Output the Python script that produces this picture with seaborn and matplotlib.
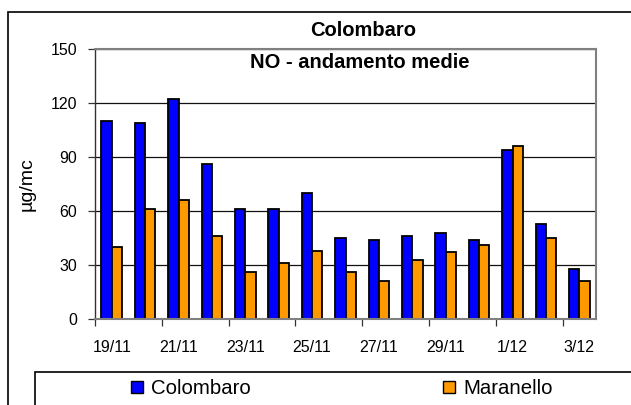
import matplotlib
matplotlib.use("Agg")
import matplotlib.pyplot as plt
import seaborn as sns
import pandas as pd
from matplotlib.patches import Rectangle
from matplotlib.lines import Line2D

categories = ["19/11", "20/11", "21/11", "22/11", "23/11", "24/11", "25/11", "26/11",
              "27/11", "28/11", "29/11", "30/11", "1/12", "2/12", "3/12"]
colombaro = [110, 109, 122, 86, 61, 61, 70, 45, 44, 46, 48, 44, 94, 53, 28]
maranello = [40, 61, 66, 46, 26, 31, 38, 26, 21, 33, 37, 41, 96, 45, 21]
series_names = ["Colombaro", "Maranello"]
series_colors = ["#0000FF", "#FF9900"]
y_ticks = [0, 30, 60, 90, 120, 150]

df = pd.DataFrame({
    "data": categories * 2,
    "valore": colombaro + maranello,
    "stazione": [series_names[0]] * len(categories) + [series_names[1]] * len(categories),
})

sns.set_theme(style="white")
plt.rcParams["font.family"] = ["Liberation Sans", "DejaVu Sans"]
plt.rcParams["text.color"] = "black"
plt.rcParams["axes.labelcolor"] = "black"
plt.rcParams["xtick.color"] = "black"
plt.rcParams["ytick.color"] = "black"

W, H = 631, 405
fig = plt.figure(figsize=(W / 100, H / 100), dpi=100)
L, R, T, B = 95, 596, 49, 319
ax = fig.add_axes([L / W, 1 - B / H, (R - L) / W, (B - T) / H])

sns.barplot(data=df, x="data", y="valore", hue="stazione", order=categories,
            hue_order=series_names, palette=series_colors, saturation=1,
            width=0.62, gap=0, edgecolor="black", linewidth=1.3, ax=ax, legend=False)

ax.set_xlim(-0.5, len(categories) - 0.5)
ax.set_ylim(0, 150)
ax.set_yticks(y_ticks)
ax.set_yticklabels([str(v) for v in y_ticks], fontsize=11.5)
ax.yaxis.grid(True, color="#111111", linewidth=0.9)
ax.set_axisbelow(True)

major = list(range(0, len(categories), 2))
ax.set_xticks(major)
ax.set_xticklabels([categories[i] for i in major], fontsize=11.5)
ax.set_xticks([i - 0.5 for i in range(0, len(categories), 2)], minor=True)
ax.tick_params(axis="x", which="major", length=0, pad=15)
ax.tick_params(axis="x", which="minor", length=5, width=0.9, color="#333333", direction="out", bottom=True)
ax.tick_params(axis="y", length=5, width=0.9, color="#333333", direction="out", left=True, pad=8)

for s in ["top", "right", "bottom"]:
    ax.spines[s].set_color("#808080")
    ax.spines[s].set_linewidth(1.5)
ax.spines["left"].set_color("#333333")
ax.spines["left"].set_linewidth(1.0)

ax.set_xlabel("")
ax.set_ylabel("µg/mc", fontsize=14)
ax.yaxis.set_label_coords(-(95 - 36) / (R - L), 0.5)

fig.text(363 / W, 1 - 31 / H, "Colombaro", ha="center", va="center",
         fontsize=14.5, fontweight="bold")
fig.text(360 / W, 1 - 63 / H, "NO - andamento medie", ha="center", va="center",
         fontsize=14.5, fontweight="bold")

# outer chart border
fig.add_artist(Rectangle((7.5 / W, -0.1), 1.0, 1 - 12 / H + 0.1, transform=fig.transFigure,
                         fill=False, edgecolor="black", linewidth=1.2, clip_on=False))
# legend box
fig.add_artist(Rectangle((35 / W, -0.1), 1.0, 1 - 372 / H + 0.1, transform=fig.transFigure,
                         fill=False, edgecolor="black", linewidth=1.2, clip_on=False))

handles = [Line2D([], [], marker="s", linestyle="none", markersize=8,
                  markerfacecolor=c, markeredgecolor="black", markeredgewidth=1.0)
           for c in series_colors]
fig.legend(handles, series_names, loc="center", bbox_to_anchor=(341 / W, 1 - 389 / H),
           ncol=2, frameon=False, fontsize=14.7, columnspacing=9.3, handletextpad=0.3,
           handlelength=0.8, borderpad=0)

fig.savefig("out.png", dpi=100)
